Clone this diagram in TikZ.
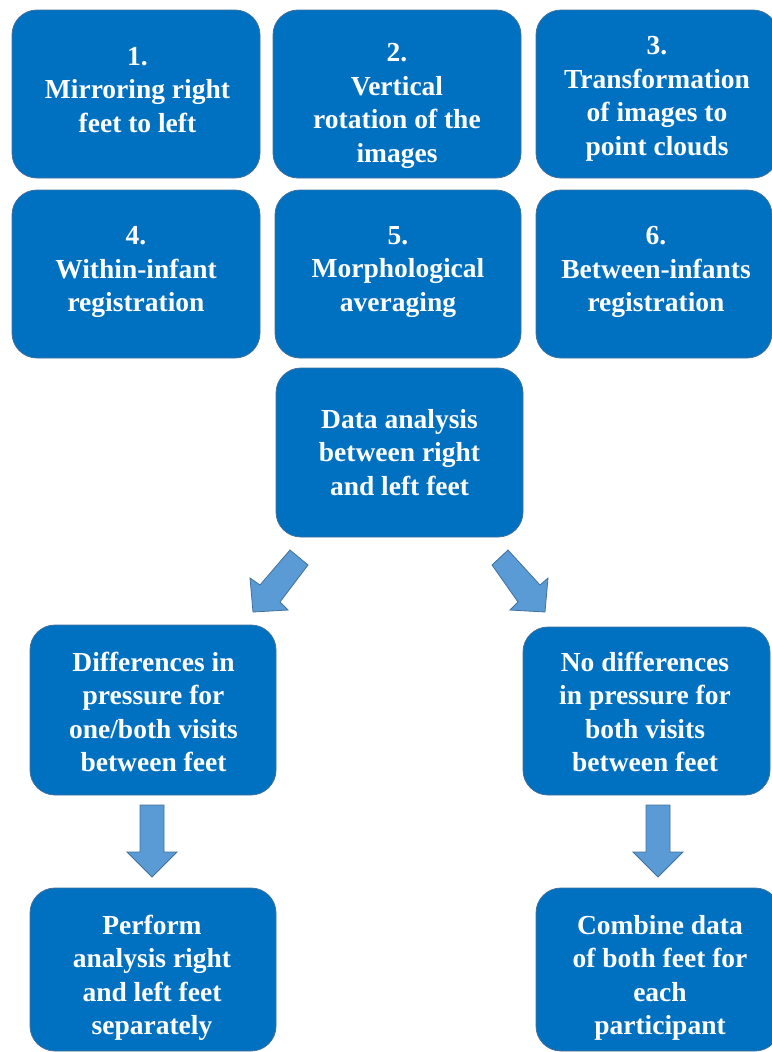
\documentclass[tikz,border=0pt]{standalone}
\usepackage{fontspec}
\setmainfont{Liberation Serif}
\definecolor{boxblue}{HTML}{0070C0}
\definecolor{boxedge}{HTML}{41719C}
\definecolor{arrfill}{HTML}{5B9BD5}
\begin{document}
\begin{tikzpicture}[x=1pt,y=-1pt,
  stepbox/.style={draw=boxedge, line width=0.8pt, fill=boxblue, rounded corners=25pt, inner sep=0pt},
  steptext/.style={text=white, align=center, inner sep=0pt,
    font=\fontsize{27.5}{33.5}\selectfont\bfseries},
  blockarrow/.style={draw=boxedge, line width=0.8pt, fill=arrfill, line join=miter}]
\useasboundingbox (0,0) rectangle (771,1052);
% boxes
\node[stepbox, minimum width=248pt, minimum height=168pt] (s1) at (136,94) {};
\node[stepbox, minimum width=248pt, minimum height=168pt] (s2) at (397,94) {};
\node[stepbox, minimum width=242pt, minimum height=168pt] (s3) at (657,94) {};
\node[stepbox, minimum width=248pt, minimum height=168pt] (s4) at (136,274) {};
\node[stepbox, minimum width=246pt, minimum height=168pt] (s5) at (398,274) {};
\node[stepbox, minimum width=236pt, minimum height=168pt] (s6) at (654,274) {};
\node[stepbox, minimum width=247pt, minimum height=169pt] (da) at (399.5,452.5) {};
\node[stepbox, minimum width=246pt, minimum height=170pt] (diff) at (153,710) {};
\node[stepbox, minimum width=247pt, minimum height=168pt] (nodiff) at (646.5,711) {};
\node[stepbox, minimum width=246pt, minimum height=163pt] (perf) at (153,969.5) {};
\node[stepbox, minimum width=244pt, minimum height=163pt] (comb) at (658,969.5) {};
% texts
\node[steptext] (t1) at (137.5,90) {1.\\Mirroring right\\feet to left};
\node[steptext] (t2) at (397,106) {2.\\Vertical\\rotation of the\\images};
\node[steptext] (t3) at (657,99) {3.\\Transformation\\of images to\\point clouds};
\node[steptext] (t4) at (136,272) {4.\\Within-infant\\registration};
\node[steptext] (t5) at (398,272) {5.\\Morphological\\averaging};
\node[steptext] (t6) at (656,272) {6.\\Between-infants\\registration};
\node[steptext] (tda) at (399.5,452.5) {Data analysis\\between right\\and left feet};
\node[steptext] (tdiff) at (153.5,712) {Differences in\\pressure for\\one/both visits\\between feet};
\node[steptext] (tnodiff) at (645,712) {No differences\\in pressure for\\both visits\\between feet};
\node[steptext] (tperf) at (152,978) {Perform\\analysis right\\and left feet\\separately};
\node[steptext] (tcomb) at (660,978) {Combine data\\of both feet for\\each\\participant};
% block arrows
\draw[blockarrow] (290,550) -- (308,565) -- (280,602) -- (288,610) -- (253,612) -- (250,578) -- (260,585) -- cycle;
\draw[blockarrow] (508,550) -- (492,565) -- (518,602) -- (510,610) -- (545,612) -- (548,578) -- (540,585) -- cycle;
\draw[blockarrow] (140,805) -- (164,805) -- (164,852) -- (177,852) -- (152,877) -- (127,852) -- (140,852) -- cycle;
\draw[blockarrow] (646,805) -- (670,805) -- (670,852) -- (683,852) -- (658,877) -- (633,852) -- (646,852) -- cycle;
\end{tikzpicture}
\end{document}
